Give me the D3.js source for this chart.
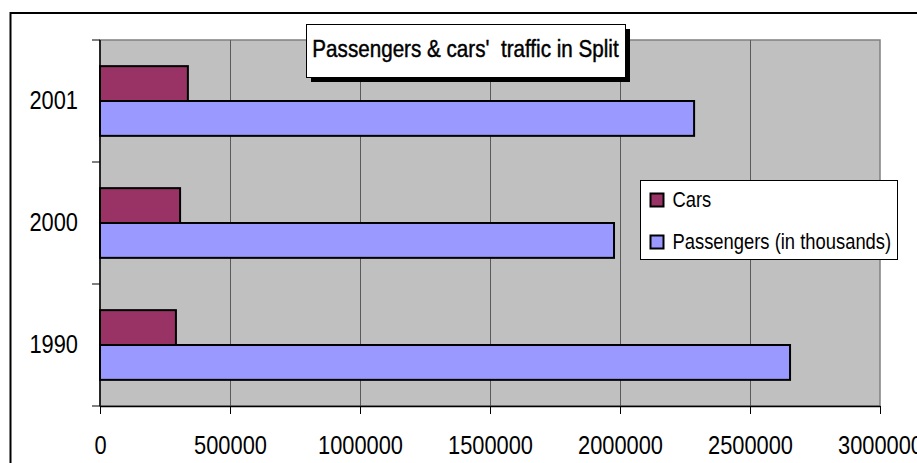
<!DOCTYPE html>
<html>
<head>
<meta charset="utf-8">
<script src="https://cdn.jsdelivr.net/npm/d3@7"></script>
<style>
  html, body { margin: 0; padding: 0; background: #fff; }
  svg { display: block; }
  text { font-family: "Liberation Sans", Arial, sans-serif; fill: #000; }
</style>
</head>
<body>
<svg id="chart" width="917" height="463"></svg>
<script>
// chart data
const years = ['2001', '2000', '1990'];
const series = ['Cars', 'Passengers (in thousands)'];
const cars = [338000, 308000, 292000];
const passengers = [2285000, 1977000, 2654000];
const xTicks = [0, 500000, 1000000, 1500000, 2000000, 2500000, 3000000];
const colors = ['#993366', '#9999ff'];

// no narrow font installed, so squeeze the glyphs horizontally
const NARROW = 0.84;

const svg = d3.select('#chart');
const plot = { left: 100, right: 880, top: 40, bottom: 406 };

// outer chart frame
svg.append('rect')
  .attr('x', 10.5).attr('y', 13).attr('width', 930).attr('height', 480)
  .attr('fill', '#fff').attr('stroke', '#000').attr('stroke-width', 2);

const x = d3.scaleLinear().domain([0, 3000000]).range([plot.left, plot.right]);
const y = d3.scaleBand().domain(years).range([plot.top, plot.bottom]);
const inner = d3.scaleBand().domain(series).range([0, y.bandwidth()])
  .paddingInner(0).paddingOuter(0.75);

// plot background
svg.append('rect')
  .attr('x', plot.left).attr('y', plot.top)
  .attr('width', plot.right - plot.left).attr('height', plot.bottom - plot.top)
  .attr('fill', '#c0c0c0').attr('stroke', '#808080').attr('stroke-width', 1.5);

// vertical gridlines
svg.append('g').selectAll('line')
  .data(xTicks.slice(1, -1))
  .join('line')
  .attr('x1', d => Math.round(x(d)) + 0.5).attr('x2', d => Math.round(x(d)) + 0.5)
  .attr('y1', plot.top).attr('y2', plot.bottom)
  .attr('stroke', '#5a5a5a').attr('stroke-width', 1);

// bars
const rows = years.map((yr, i) => ({ year: yr, vals: [cars[i], passengers[i]] }));
const groups = svg.append('g').selectAll('g')
  .data(rows)
  .join('g')
  .attr('transform', d => `translate(0,${y(d.year)})`);

groups.selectAll('rect')
  .data(d => d.vals.map((v, j) => ({ key: series[j], v, c: colors[j] })))
  .join('rect')
  .attr('x', x(0))
  .attr('y', d => inner(d.key))
  .attr('width', d => x(d.v) - x(0))
  .attr('height', inner.bandwidth())
  .attr('fill', d => d.c)
  .attr('stroke', '#000').attr('stroke-width', 2);

// x axis
const xAxis = svg.append('g')
  .attr('transform', `translate(0,${plot.bottom})`)
  .call(d3.axisBottom(x).tickValues(xTicks).tickFormat(d3.format('d')).tickSize(8).tickSizeOuter(0));
xAxis.select('.domain').attr('stroke', '#000').attr('stroke-width', 1.5);
xAxis.selectAll('.tick line').attr('stroke', '#000');
xAxis.selectAll('text')
  .attr('font-size', 26).attr('dy', null).attr('y', null)
  .attr('transform', `translate(0,48) scale(${NARROW},1)`)
  .style('font-family', null);

// y axis (ticks on category boundaries)
const yAxis = svg.append('g')
  .attr('transform', `translate(${plot.left},0)`);
yAxis.append('line')
  .attr('x1', 0).attr('x2', 0).attr('y1', plot.top).attr('y2', plot.bottom)
  .attr('stroke', '#000').attr('stroke-width', 1.5);
yAxis.selectAll('.ytick')
  .data(years.map(d => y(d)).concat([plot.bottom]))
  .join('line')
  .attr('class', 'ytick')
  .attr('x1', -8).attr('x2', 0)
  .attr('y1', d => d).attr('y2', d => d)
  .attr('stroke', '#000');
yAxis.selectAll('.ylab')
  .data(years)
  .join('text')
  .attr('class', 'ylab')
  .attr('transform', d => `translate(-22,${y(d) + y.bandwidth() / 2 + 7.5}) scale(${NARROW},1)`)
  .attr('text-anchor', 'end')
  .attr('font-size', 26)
  .text(d => d);

// title box with shadow
const tb = { x: 306, y: 24, w: 319, h: 53 };
svg.append('rect')
  .attr('x', tb.x + 5).attr('y', tb.y + 5).attr('width', tb.w).attr('height', tb.h)
  .attr('fill', '#000');
svg.append('rect')
  .attr('x', tb.x + 0.5).attr('y', tb.y + 0.5).attr('width', tb.w).attr('height', tb.h)
  .attr('fill', '#fff').attr('stroke', '#000').attr('stroke-width', 1);
svg.append('text')
  .attr('transform', `translate(${tb.x + tb.w / 2},56.5) scale(0.86,1)`)
  .attr('text-anchor', 'middle')
  .attr('font-size', 24)
  .attr('stroke', '#000').attr('stroke-width', 0.45)
  .text("Passengers & cars'\u00a0 traffic in Split");

// legend
const lg = svg.append('g').attr('transform', 'translate(640.5,180.5)');
lg.append('rect')
  .attr('width', 257).attr('height', 79)
  .attr('fill', '#fff').attr('stroke', '#000').attr('stroke-width', 1);
const item = lg.selectAll('.item')
  .data(series)
  .join('g')
  .attr('class', 'item')
  .attr('transform', (d, i) => `translate(10,${13 + i * 42})`);
item.append('rect')
  .attr('width', 13).attr('height', 13)
  .attr('fill', (d, i) => colors[i])
  .attr('stroke', '#000').attr('stroke-width', 2);
item.append('text')
  .attr('transform', 'translate(22,13) scale(0.855,1)')
  .attr('font-size', 21.5)
  .text(d => d);
</script>
</body>
</html>
